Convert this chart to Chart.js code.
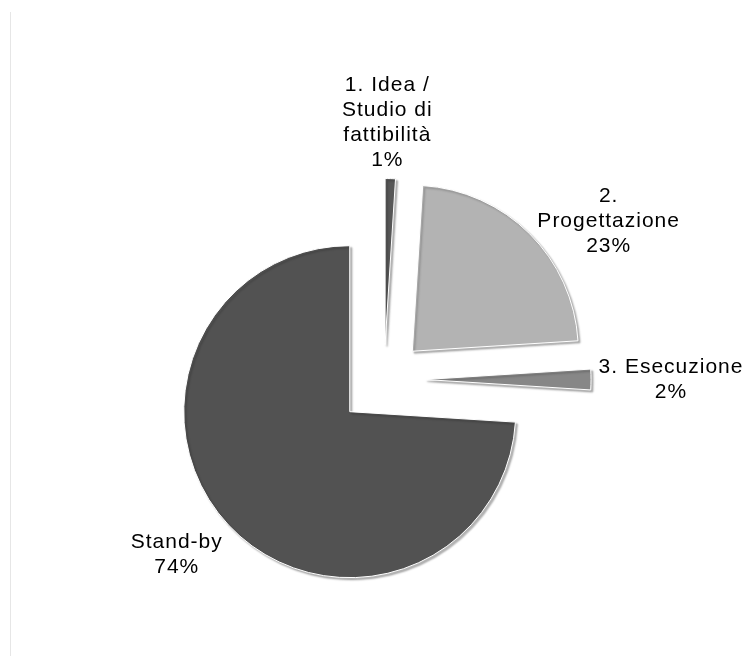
<!DOCTYPE html>
<html>
<head>
<meta charset="utf-8">
<script src="https://cdn.jsdelivr.net/npm/chart.js@4.4.0/dist/chart.umd.min.js"></script>
<style>
  html, body { margin: 0; padding: 0; background: #fff; }
  #wrap { position: relative; width: 746px; height: 656px; }
</style>
</head>
<body>
<div id="wrap"><canvas id="chart" width="746" height="656"></canvas></div>
<script>
// data
const categories = ['1. Idea / Studio di fattibilità', '2. Progettazione', '3. Esecuzione', 'Stand-by'];
const labelLines = [['1. Idea /', 'Studio di', 'fattibilità'], ['2.', 'Progettazione'], ['3. Esecuzione'], ['Stand-by']];
const shares = [1, 23, 2, 74];
const sliceColors = ['#575757', '#b3b3b3', '#878787', '#525252'];

const baseRadius = 166;
const explode = [140, 160, 164, 188]; // chart.js moves a slice by offset / 4

// chart.js also grows an exploded slice by offset/4 * fix and trims its angle,
// undo both so every slice keeps the same radius and its true size
const keepRadius = {
    id: 'keepRadius',
    afterDatasetUpdate(chart, args) {
        args.meta.data.forEach(arc => {
            const off = (arc.options.offset || 0) / 4;
            const fix = 1 - Math.sin(Math.min(Math.PI, arc.circumference));
            const grow = off * fix;
            arc.outerRadius = baseRadius - grow;
            const widen = grow / Math.PI / baseRadius / 2;
            arc.startAngle -= widen;
            arc.endAngle += widen;
        });
    }
};

const softShadow = {
    id: 'softShadow',
    beforeDatasetsDraw(chart) {
        const ctx = chart.ctx;
        ctx.save();
        ctx.shadowColor = 'rgba(0, 0, 0, 0.3)';
        ctx.shadowBlur = 2;
        ctx.shadowOffsetX = 2;
        ctx.shadowOffsetY = 2;
    },
    afterDatasetsDraw(chart) {
        chart.ctx.restore();
    }
};

const frameLine = {
    id: 'frameLine',
    beforeDraw(chart) {
        const ctx = chart.ctx;
        ctx.save();
        ctx.strokeStyle = '#e6e6e6';
        ctx.lineWidth = 1;
        ctx.beginPath();
        ctx.moveTo(10.5, 12);
        ctx.lineTo(10.5, chart.height);
        ctx.stroke();
        ctx.restore();
    }
};

const sliceLabels = {
    id: 'sliceLabels',
    afterDatasetsDraw(chart, args, opts) {
        const ctx = chart.ctx;
        const meta = chart.getDatasetMeta(0);
        ctx.save();
        ctx.font = '21px "Liberation Sans", Arial, sans-serif';
        ctx.letterSpacing = '1px';
        ctx.fillStyle = '#000';
        ctx.textAlign = 'center';
        ctx.textBaseline = 'middle';
        meta.data.forEach((arc, i) => {
            const mid = (arc.startAngle + arc.endAngle) / 2;
            const reach = baseRadius + (arc.options.offset || 0) / 4;
            const shift = opts.shift[i];
            const cx = arc.x + Math.cos(mid) * reach + shift[0];
            const cy = arc.y + Math.sin(mid) * reach + shift[1];
            const lines = labelLines[i].concat(shares[i] + '%');
            const top = cy - (lines.length - 1) / 2 * opts.lineHeight;
            lines.forEach((t, k) => ctx.fillText(t, cx, top + k * opts.lineHeight));
        });
        ctx.restore();
    }
};

new Chart(document.getElementById('chart').getContext('2d'), {
    type: 'pie',
    data: {
        labels: categories,
        datasets: [{
            data: shares,
            backgroundColor: sliceColors,
            borderColor: '#ffffff',
            borderWidth: 1,
            offset: explode
        }]
    },
    options: {
        responsive: false,
        animation: false,
        radius: baseRadius,
        layout: { padding: { left: 22, top: 103, right: 0, bottom: 0 } },
        plugins: {
            legend: { display: false },
            tooltip: { enabled: false },
            sliceLabels: {
                lineHeight: 25,
                shift: [[-3, -56], [79, -13], [80, 0], [-52, 29]]
            }
        }
    },
    plugins: [frameLine, keepRadius, softShadow, sliceLabels]
});
</script>
</body>
</html>
